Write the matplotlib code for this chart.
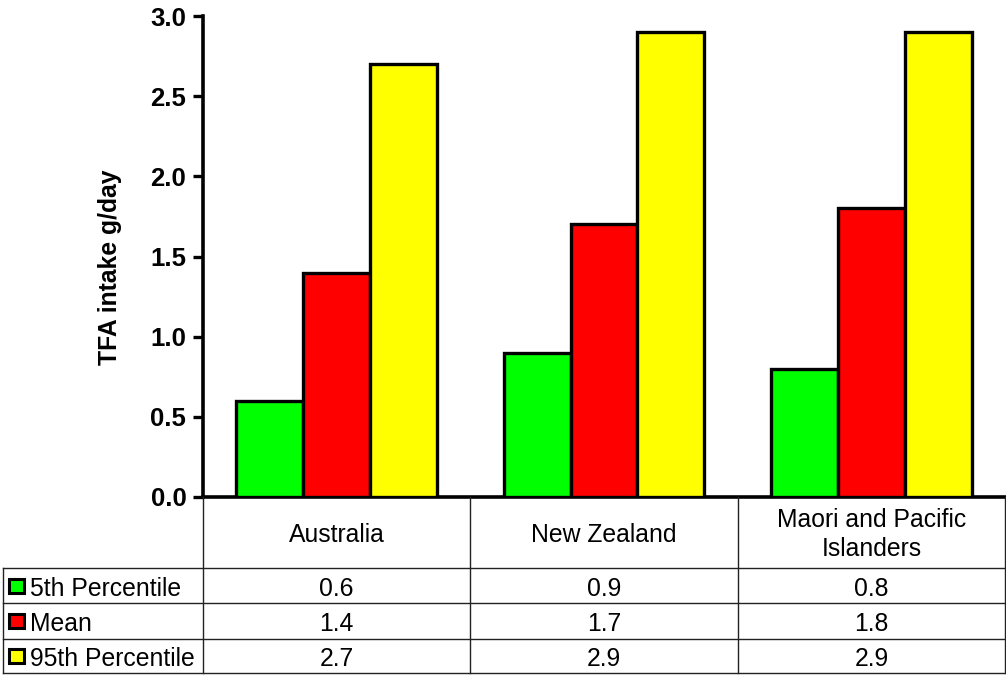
import numpy as np
import matplotlib.pyplot as plt
from matplotlib.patches import Rectangle

plt.rcParams['font.family'] = ['Liberation Sans', 'DejaVu Sans']

# groups and series
groups = ['Australia', 'New Zealand', 'Maori and Pacific\nIslanders']
series = ['5th Percentile', 'Mean', '95th Percentile']
p5 = [0.6, 0.9, 0.8]
mean = [1.4, 1.7, 1.8]
p95 = [2.7, 2.9, 2.9]
colors = ['#00ff00', '#ff0000', '#ffff00']
yticks = [0.0, 0.5, 1.0, 1.5, 2.0, 2.5, 3.0]

W, H = 1006, 675
fig = plt.figure(figsize=(W / 100, H / 100), dpi=100)

# chart area in pixel layout
x0, x1 = 203, 1005
ytop, ybot = 16, 497
ax = fig.add_axes([x0 / W, 1 - ybot / H, (x1 - x0) / W, (ybot - ytop) / H])

vals = [p5, mean, p95]
x = np.arange(len(groups))
bw = 0.25
for i, v in enumerate(vals):
    ax.bar(x + (i - 1) * bw, v, bw, color=colors[i], edgecolor='black', linewidth=2.4, zorder=3)

ax.set_xlim(-0.5, len(groups) - 0.5)
ax.set_ylim(0, 3.0)
ax.set_yticks(yticks)
ax.set_yticklabels(['%.1f' % t for t in yticks], fontsize=18.5, fontweight='bold')
ax.set_xticks([])
ax.tick_params(axis='y', length=7, width=2.4, pad=5)
ax.spines['top'].set_visible(False)
ax.spines['right'].set_visible(False)
ax.spines['left'].set_linewidth(2.6)
ax.spines['bottom'].set_linewidth(2.6)
ax.set_ylabel('TFA intake g/day', fontsize=17.8, fontweight='bold')
ax.yaxis.set_label_coords(-0.101, 0.478)

# data table under the chart, drawn in pixel units
tax = fig.add_axes([0, 0, 1, 1])
tax.set_xlim(0, W)
tax.set_ylim(H, 0)
tax.axis('off')

col_edges = np.linspace(x0, x1, len(groups) + 1)
row_edges = [ybot, 568, 603, 639, 673]
lx = 3
lc = '#222222'
lw = 1.0

for cx in col_edges:
    tax.plot([cx, cx], [ybot, row_edges[-1]], color=lc, lw=lw)
for ry in row_edges[1:]:
    tax.plot([lx, x1], [ry, ry], color=lc, lw=lw)
tax.plot([lx, lx], [row_edges[1], row_edges[-1]], color=lc, lw=lw)

for j, g in enumerate(groups):
    cx = (col_edges[j] + col_edges[j + 1]) / 2
    tax.text(cx, (row_edges[0] + row_edges[1]) / 2 + 2, g, ha='center', va='center',
             fontsize=17.8, linespacing=1.3)

for i, name in enumerate(series):
    cy = (row_edges[i + 1] + row_edges[i + 2]) / 2
    tax.add_patch(Rectangle((9, cy - 7), 15, 14, facecolor=colors[i], edgecolor='black', lw=2.2))
    tax.text(30, cy + 3, name, ha='left', va='center', fontsize=17.8)
    for j in range(len(groups)):
        cx = (col_edges[j] + col_edges[j + 1]) / 2
        tax.text(cx, cy + 3, '%.1f' % vals[i][j], ha='center', va='center', fontsize=17.8)

fig.savefig('out.png', dpi=100)
